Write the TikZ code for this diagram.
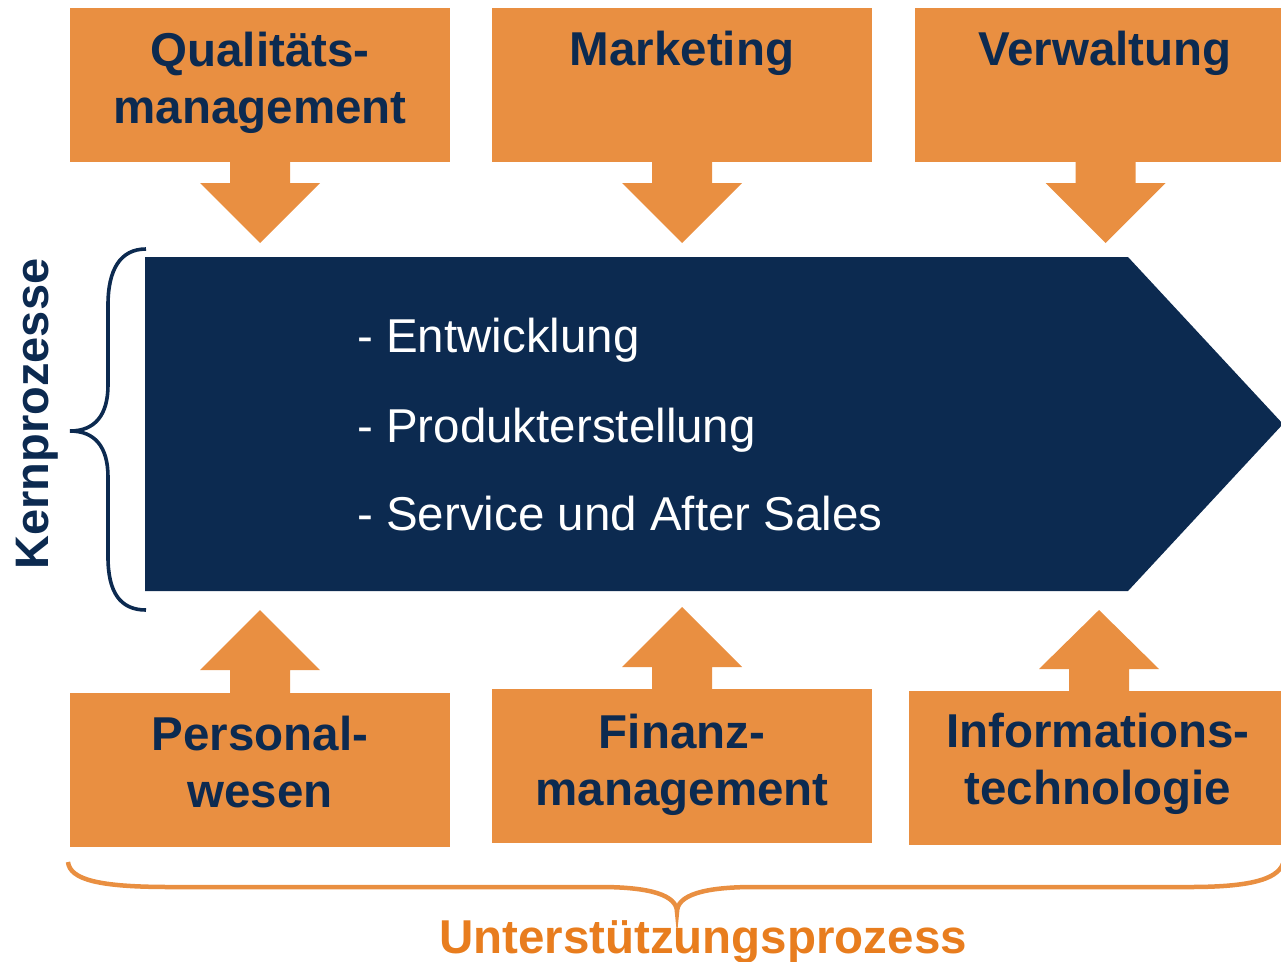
\documentclass[tikz,border=0pt]{standalone}
\usepackage{fontspec}
\setmainfont{Liberation Sans}
\definecolor{boxorange}{HTML}{E98F41}
\definecolor{navy}{HTML}{0C2A50}
\definecolor{labelorange}{HTML}{E87D1E}
\tikzset{
  box/.style={fill=boxorange, draw=none, inner sep=0pt, minimum width=380pt, minimum height=154pt},
  boxtext/.style={font=\bfseries\fontsize{47.5}{57}\selectfont, text=navy, align=center, anchor=base, inner sep=0pt},
  listtext/.style={font=\fontsize{47.5}{58}\selectfont, text=white, anchor=base west, inner sep=0pt},
  blockarrow/.style={fill=boxorange, draw=none},
}
\begin{document}
\begin{tikzpicture}[x=1pt, y=-1pt]
\useasboundingbox (0,0) rectangle (1281,961);
% main process arrow
\path[fill=navy] (145,257) -- (1128,257) -- (1283,424) -- (1128,591) -- (145,591) -- cycle;
\node[listtext] (l1) at (357,352) {- Entwicklung};
\node[listtext] (l2) at (357,442) {- Produkterstellung};
\node[listtext] (l3) at (357,530) {- Service und After Sales};
% top boxes
\node[box] (t1) at (260,84.5) {};
\node[box] (t2) at (682,84.5) {};
\node[box, minimum width=370pt] (t3) at (1100,84.5) {};
% top arrows
\foreach \c in {260,682,1105.5}{
  \path[blockarrow] (\c-30,160) -- (\c-30,183) -- (\c-60,183) -- (\c,243) -- (\c+60,183) -- (\c+30,183) -- (\c+30,160) -- cycle;
}
\node[boxtext] (t1t) at (260,123) {Qualitäts-\\management};
\node[boxtext] (t2t) at (682,65) {Marketing};
\node[boxtext] (t3t) at (1105,65) {Verwaltung};
% bottom boxes
\node[box] (u1) at (260,769.5) {};
\node[box] (u2) at (682,766) {};
\node[box, minimum width=375pt] (u3) at (1096.5,767.5) {};
% bottom arrows
\path[blockarrow] (230,693) -- (230,670) -- (200,670) -- (260,610) -- (320,670) -- (290,670) -- (290,693) -- cycle;
\path[blockarrow] (652,690) -- (652,667) -- (622,667) -- (682,607) -- (742,667) -- (712,667) -- (712,690) -- cycle;
\path[blockarrow] (1069,692) -- (1069,669) -- (1039,669) -- (1099,610) -- (1159,669) -- (1129,669) -- (1129,692) -- cycle;
\node[boxtext] (u1t) at (260,807) {Personal-\\wesen};
\node[boxtext] (u2t) at (682,805) {Finanz-\\management};
\node[boxtext] (u3t) at (1098,804) {Informations-\\technologie};
% left brace
\draw[navy, line width=3.6pt] (146,249) .. controls (120,249) and (108,270) .. (108,305) -- (108,385) .. controls (108,415) and (95,431) .. (70,431) .. controls (95,431) and (108,447) .. (108,477) -- (108,557) .. controls (108,592) and (120,610) .. (146,610);
\node[font=\bfseries\fontsize{47}{56}\selectfont, text=navy, rotate=90, anchor=base, inner sep=0pt] (kern) at (48,414) {Kernprozesse};
% bottom brace
\draw[boxorange, line width=4.5pt] (68,862) .. controls (70,880) and (100,887) .. (170,887) -- (600,887) .. controls (650,887) and (677,895) .. (677,912) .. controls (677,895) and (704,887) .. (754,887) -- (1190,887) .. controls (1255,887) and (1281,878) .. (1284,860);
\node[font=\bfseries\fontsize{47.5}{58}\selectfont, text=labelorange, anchor=base, inner sep=0pt] (unter) at (703,953) {Unterstützungsprozess};
\end{tikzpicture}
\end{document}
